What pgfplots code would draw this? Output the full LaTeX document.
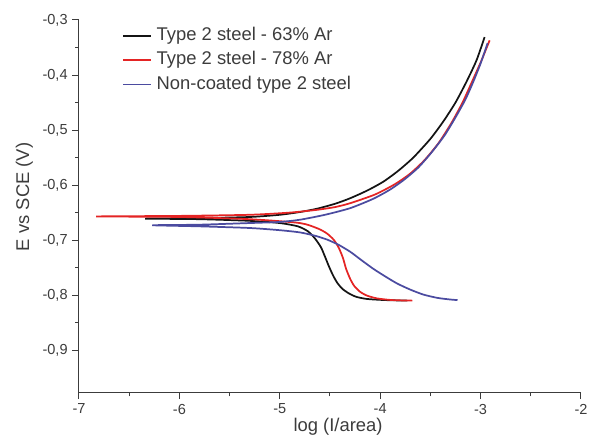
\documentclass[border=0pt]{standalone}
\usepackage{fontspec}
\setmainfont{Liberation Sans}
\usepackage{pgfplots}
\pgfplotsset{compat=1.18}
\definecolor{cblack}{RGB}{20,20,20}
\definecolor{cred}{RGB}{228,36,36}
\definecolor{cblue}{RGB}{75,75,160}
\definecolor{axgray}{RGB}{60,60,60}
\begin{document}
\begin{tikzpicture}
\path[use as bounding box] (-59.25pt,-34.1pt) rectangle (383.25pt,294.4pt);
\begin{axis}[
  at={(0,0)}, anchor=south west,
  scale only axis, width=376.5pt, height=279.4pt,
  xmin=-7, xmax=-2, ymin=-0.977, ymax=-0.3,
  axis x line*=bottom, axis y line*=left,
  axis line style={axgray, line width=0.75pt},
  every tick/.style={axgray, line width=0.75pt},
  tick align=outside,
  major tick length=5pt, minor tick length=2.8pt,
  xtick={-7,-6,-5,-4,-3,-2},
  ytick={-0.9,-0.8,-0.7,-0.6,-0.5,-0.4,-0.3},
  minor x tick num=1, minor y tick num=1,
  /pgf/number format/assume math mode=true,
  /pgf/number format/use comma,
  yticklabel style={/pgf/number format/fixed, /pgf/number format/precision=1, /pgf/number format/fixed zerofill},
  tick label style={font=\fontsize{10.9}{13}\selectfont, text=axgray},
  xlabel={log (I/area)}, ylabel={E vs SCE (V)},
  xlabel style={at={(axis description cs:0.516,0)}, anchor=north, inner sep=0pt, yshift=-19pt, font=\fontsize{13.8}{16}\selectfont, text=axgray},
  every axis y label/.style={at={(axis description cs:-0.1089,0.525)}, anchor=center, rotate=90, inner sep=0pt, font=\fontsize{13.8}{16}\selectfont, text=axgray},
  legend style={draw=none, fill=none, at={(axis description cs:0.0857,0.985)}, anchor=north west,
    font=\fontsize{13.8}{16}\selectfont, text=axgray, row sep=3.2pt, inner sep=0pt,
    nodes={inner xsep=3.5pt, inner ysep=1pt, text height=10pt, text depth=3pt}},
  legend cell align=left,
  legend image code/.code={\draw[#1] (0pt,0pt) -- (21pt,0pt);},
  every axis plot/.append style={line width=1.3pt, smooth, tension=0.4},
  clip=false,
]
\addplot[cblack] coordinates {
(-3.73,-0.810) (-3.95,-0.809) (-4.13,-0.807) (-4.24,-0.803) (-4.32,-0.796) (-4.38,-0.788)
(-4.43,-0.777) (-4.47,-0.764) (-4.51,-0.748) (-4.55,-0.730) (-4.59,-0.713) (-4.65,-0.697)
(-4.72,-0.684) (-4.82,-0.675) (-5.00,-0.669) (-5.30,-0.665) (-5.80,-0.662) (-6.34,-0.661)
(-5.80,-0.660) (-5.30,-0.658) (-5.00,-0.654) (-4.80,-0.649) (-4.63,-0.643) (-4.45,-0.634)
(-4.30,-0.624) (-4.13,-0.610) (-3.97,-0.594) (-3.82,-0.574) (-3.67,-0.550) (-3.50,-0.516)
(-3.37,-0.484) (-3.25,-0.450) (-3.14,-0.412) (-3.04,-0.373) (-2.96,-0.331)
};
\addlegendentry{Type 2 steel - 63\% Ar}
\addplot[cred] coordinates {
(-3.68,-0.810) (-3.88,-0.809) (-4.03,-0.806) (-4.13,-0.801) (-4.20,-0.794) (-4.26,-0.783)
(-4.30,-0.770) (-4.34,-0.752) (-4.37,-0.733) (-4.41,-0.715) (-4.46,-0.700) (-4.53,-0.688)
(-4.62,-0.679) (-4.80,-0.669) (-5.30,-0.662) (-6.00,-0.658) (-6.83,-0.657)
(-6.00,-0.656) (-5.30,-0.654) (-4.90,-0.650) (-4.63,-0.645) (-4.45,-0.640) (-4.30,-0.633)
(-4.05,-0.617) (-3.85,-0.598) (-3.70,-0.579) (-3.56,-0.555) (-3.42,-0.524) (-3.29,-0.487)
(-3.18,-0.450) (-3.08,-0.410) (-2.99,-0.373) (-2.91,-0.337)
};
\addlegendentry{Type 2 steel - 78\% Ar}
\addplot[cblue] coordinates {
(-3.23,-0.809) (-3.30,-0.808) (-3.43,-0.805) (-3.57,-0.799) (-3.70,-0.790) (-3.83,-0.779)
(-3.95,-0.766) (-4.07,-0.752) (-4.19,-0.736) (-4.30,-0.721) (-4.42,-0.708) (-4.53,-0.699)
(-4.65,-0.692) (-4.80,-0.686) (-5.00,-0.682) (-5.30,-0.678) (-5.80,-0.675) (-6.27,-0.673)
(-5.80,-0.672) (-5.30,-0.669) (-5.00,-0.667) (-4.80,-0.663) (-4.55,-0.654) (-4.30,-0.642)
(-4.07,-0.625) (-3.90,-0.608) (-3.76,-0.590) (-3.62,-0.568) (-3.49,-0.541) (-3.36,-0.510)
(-3.25,-0.477) (-3.15,-0.444) (-3.07,-0.411) (-3.00,-0.379) (-2.93,-0.342)
};
\addlegendentry{Non-coated type 2 steel}
\end{axis}
\end{tikzpicture}
\end{document}
